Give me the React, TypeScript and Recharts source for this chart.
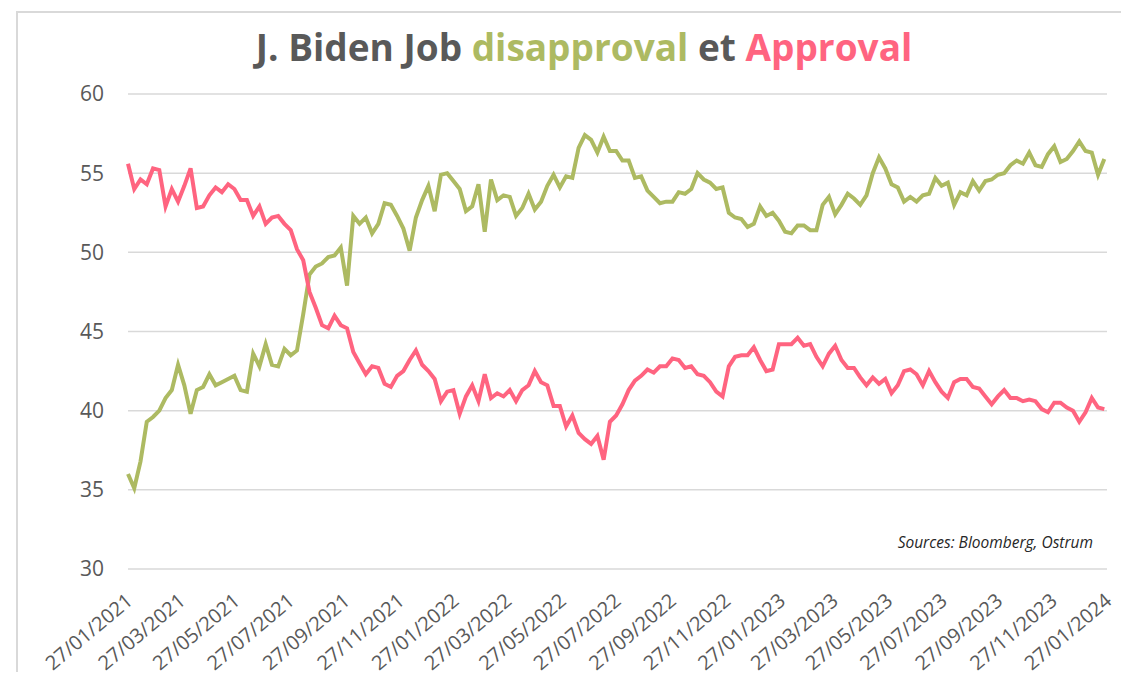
import React from 'react';
import { LineChart, Line, XAxis, YAxis, CartesianGrid } from 'recharts';

// weekly readings starting 27/01/2021
const firstDay = '27/01/2021';

const approval = [
  55.6, 54.0, 54.6, 54.3, 55.3, 55.2, 52.9, 54.0, 53.2, 54.2,
  55.3, 52.8, 52.9, 53.6, 54.1, 53.8, 54.3, 54.0, 53.3, 53.3,
  52.3, 52.9, 51.8, 52.2, 52.3, 51.8, 51.4, 50.2, 49.5, 47.5,
  46.5, 45.4, 45.2, 46.0, 45.4, 45.2, 43.7, 43.0, 42.3, 42.8,
  42.7, 41.7, 41.5, 42.2, 42.5, 43.2, 43.8, 42.9, 42.5, 42.0,
  40.6, 41.2, 41.3, 39.8, 40.9, 41.6, 40.6, 42.3, 40.8, 41.1,
  40.9, 41.3, 40.6, 41.3, 41.6, 42.5, 41.8, 41.6, 40.3, 40.3,
  39.0, 39.7, 38.6, 38.2, 37.9, 38.4, 36.9, 39.3, 39.7, 40.4,
  41.3, 41.9, 42.2, 42.6, 42.4, 42.8, 42.8, 43.3, 43.2, 42.7,
  42.8, 42.3, 42.2, 41.8, 41.2, 40.9, 42.8, 43.4, 43.5, 43.5,
  44.0, 43.2, 42.5, 42.6, 44.2, 44.2, 44.2, 44.6, 44.1, 44.2,
  43.4, 42.8, 43.6, 44.1, 43.2, 42.7, 42.7, 42.1, 41.6, 42.1,
  41.7, 42.0, 41.1, 41.6, 42.5, 42.6, 42.3, 41.6, 42.5, 41.8,
  41.2, 40.8, 41.8, 42.0, 42.0, 41.5, 41.4, 40.9, 40.4, 40.9,
  41.3, 40.8, 40.8, 40.6, 40.7, 40.6, 40.1, 39.9, 40.5, 40.5,
  40.2, 40.0, 39.3, 39.9, 40.8, 40.2, 40.1,
];

const disapproval = [
  36.0, 35.1, 36.8, 39.3, 39.6, 40.0, 40.8, 41.3, 42.9, 41.6,
  39.8, 41.3, 41.5, 42.3, 41.6, 41.8, 42.0, 42.2, 41.3, 41.2,
  43.6, 42.8, 44.2, 42.9, 42.8, 43.9, 43.5, 43.8, 46.1, 48.6,
  49.1, 49.3, 49.7, 49.8, 50.3, 47.9, 52.3, 51.8, 52.2, 51.2,
  51.8, 53.1, 53.0, 52.3, 51.5, 50.1, 52.2, 53.3, 54.2, 52.6,
  54.9, 55.0, 54.5, 54.0, 52.6, 52.9, 54.3, 51.3, 54.6, 53.3,
  53.6, 53.5, 52.3, 52.8, 53.7, 52.7, 53.2, 54.2, 54.9, 54.1,
  54.8, 54.7, 56.6, 57.4, 57.1, 56.3, 57.3, 56.4, 56.4, 55.8,
  55.8, 54.7, 54.8, 53.9, 53.5, 53.1, 53.2, 53.2, 53.8, 53.7,
  54.0, 55.0, 54.6, 54.4, 54.0, 54.1, 52.5, 52.2, 52.1, 51.6,
  51.8, 52.9, 52.3, 52.5, 52.0, 51.3, 51.2, 51.7, 51.7, 51.4,
  51.4, 53.0, 53.5, 52.4, 53.0, 53.7, 53.4, 53.0, 53.6, 55.0,
  56.0, 55.3, 54.3, 54.1, 53.2, 53.5, 53.2, 53.6, 53.7, 54.7,
  54.2, 54.4, 53.0, 53.8, 53.6, 54.5, 53.9, 54.5, 54.6, 54.9,
  55.0, 55.5, 55.8, 55.6, 56.3, 55.5, 55.4, 56.2, 56.7, 55.7,
  55.9, 56.4, 57.0, 56.4, 56.3, 54.9, 55.9,
];

const tickLabels = [
  '27/01/2021', '27/03/2021', '27/05/2021', '27/07/2021', '27/09/2021', '27/11/2021',
  '27/01/2022', '27/03/2022', '27/05/2022', '27/07/2022', '27/09/2022', '27/11/2022',
  '27/01/2023', '27/03/2023', '27/05/2023', '27/07/2023', '27/09/2023', '27/11/2023',
  '27/01/2024',
];

const yTicks = [30, 35, 40, 45, 50, 55, 60];

const DAY = 86400000;
const parseDate = (s: string) => {
  const [d, m, y] = s.split('/').map(Number);
  return Date.UTC(y, m - 1, d);
};
const pad = (n: number) => String(n).padStart(2, '0');
const formatDate = (t: number) => {
  const d = new Date(t);
  return `${pad(d.getUTCDate())}/${pad(d.getUTCMonth() + 1)}/${d.getUTCFullYear()}`;
};

const start = parseDate(firstDay);
const xTicks = tickLabels.map(parseDate);
const data = approval.map((a, i) => ({
  t: start + i * 7 * DAY,
  approval: a,
  disapproval: disapproval[i],
}));

const GREEN = '#adba62';
const PINK = '#ff6480';
const GREY = '#595959';
const FONT = '"Open Sans", sans-serif';

const DateTick = (props: any) => {
  const { x, y, payload } = props;
  const tx = x + 6;
  const ty = y + 32;
  return (
    <text
      x={tx}
      y={ty}
      transform={`rotate(-40, ${tx}, ${ty})`}
      textAnchor="end"
      fill={GREY}
      fontSize={20}
      fontFamily={FONT}
    >
      {formatDate(payload.value)}
    </text>
  );
};

const App = () => {
  return (
    <div style={{ position: 'relative', top: 3, width: 1113, height: 664 }}>
      <div
        style={{
          position: 'absolute',
          left: 8,
          top: 0,
          width: 1105,
          height: 664,
          borderTop: '2px solid #d9d9d9',
          borderLeft: '2px solid #d9d9d9',
          background: '#fff',
        }}
      >
        <div
          style={{
            position: 'absolute',
            left: 0,
            top: 8,
            width: 1132,
            textAlign: 'center',
            fontFamily: FONT,
            fontWeight: 700,
            fontSize: 37,
            color: GREY,
          }}
        >
          J. Biden Job <span style={{ color: GREEN }}>disapproval</span> et{' '}
          <span style={{ color: PINK }}>Approval</span>
        </div>
        <LineChart
          width={1100}
          height={668}
          data={data}
          margin={{ top: 81, right: 11, left: 0, bottom: 0 }}
        >
          <CartesianGrid vertical={false} stroke="#d9d9d9" strokeWidth={1.5} />
          <XAxis
            dataKey="t"
            type="number"
            domain={[xTicks[0], xTicks[xTicks.length - 1]]}
            ticks={xTicks}
            interval={0}
            tick={<DateTick />}
            tickLine={false}
            axisLine={false}
            tickSize={0}
            height={112}
          />
          <YAxis
            domain={[30, 60]}
            ticks={yTicks}
            tickLine={false}
            axisLine={false}
            tickSize={0}
            tickMargin={24}
            width={110}
            tick={{ fill: GREY, fontSize: 21, fontFamily: FONT }}
          />
          <Line
            type="linear"
            dataKey="disapproval"
            stroke={GREEN}
            strokeWidth={4}
            dot={false}
            isAnimationActive={false}
          />
          <Line
            type="linear"
            dataKey="approval"
            stroke={PINK}
            strokeWidth={4}
            dot={false}
            isAnimationActive={false}
          />
        </LineChart>
        <div
          style={{
            position: 'absolute',
            left: 0,
            top: 518,
            width: 1075,
            textAlign: 'right',
            fontFamily: FONT,
            fontStyle: 'italic',
            fontSize: 15.5,
            color: '#262626',
          }}
        >
          Sources: Bloomberg, Ostrum
        </div>
      </div>
    </div>
  );
};

export default App;
